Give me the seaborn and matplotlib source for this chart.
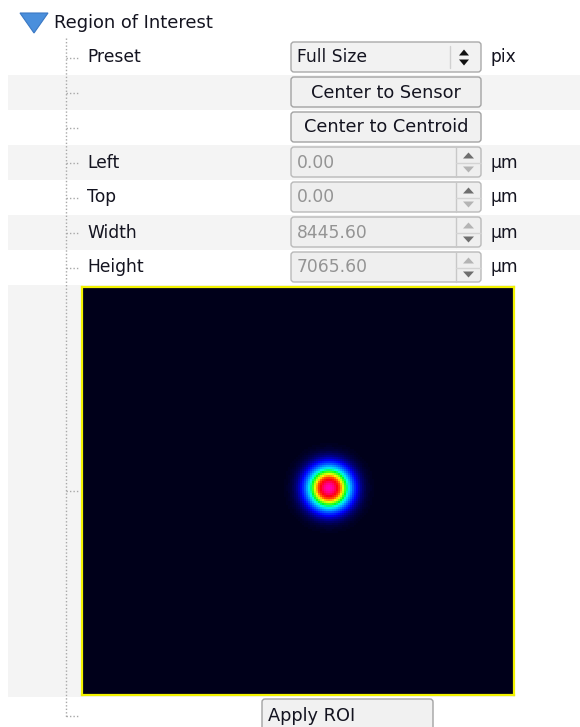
#   ROI panel with beam camera preview

import numpy as np
import seaborn as sns
import matplotlib.pyplot as plt
from matplotlib.patches import FancyBboxPatch, Rectangle, Polygon
from matplotlib.colors import LinearSegmentedColormap

sns.set_style("white")
plt.rcParams['font.family'] = ['DejaVu Sans']

# ---- panel content ----
title = "Region of Interest"
row_labels = ["Preset", "", "", "Left", "Top", "Width", "Height"]
row_widgets = ["combo", "button", "button", "spin", "spin", "spin", "spin"]
row_values = ["Full Size", "Center to Sensor", "Center to Centroid",
              "0.00", "0.00", "8445.60", "7065.60"]
row_units = ["pix", "", "", "µm", "µm", "µm", "µm"]
apply_label = "Apply ROI"

# ---- beam image (sensor cells) ----
sensor_cols = 216
sensor_rows = 204
beam_cx = 123.0
beam_cy = 100.0
beam_sigma = 6.75

# ---- layout (pixels, top-left origin) ----
W, H = 580, 727
ROW_TOP0, ROW_H = 40, 35
TREE_X = 66
LABEL_X = 87
WID_L, WID_R = 291, 481
UNIT_X = 490
IMG_L, IMG_R, IMG_T, IMG_B = 82, 514, 287, 695
TEXT = "#141420"
FS = 12.3

fig = plt.figure(figsize=(W / 100, H / 100), dpi=100)
bg = fig.add_axes([0, 0, 1, 1])
bg.set_xlim(0, W)
bg.set_ylim(H, 0)
bg.axis("off")

# header
bg.add_patch(Polygon([[20, 13], [48, 13], [34, 33]], closed=True,
                     facecolor="#4a8fdc", edgecolor="#3a78c4", lw=0.8))
bg.text(54, 23, title, fontsize=12.9, color=TEXT, va="center", ha="left")

# alternating row bands
for i in range(len(row_labels)):
    if i % 2 == 1:
        top = ROW_TOP0 + i * ROW_H
        bg.add_patch(Rectangle((8, top), W - 8, ROW_H, facecolor="#f4f4f4",
                               edgecolor="none", zorder=0))
img_row_top = ROW_TOP0 + len(row_labels) * ROW_H
bg.add_patch(Rectangle((8, img_row_top), IMG_R + 1 - 8, IMG_B + 2 - img_row_top,
                       facecolor="#f4f4f4", edgecolor="none", zorder=0))

# tree line
bg.plot([TREE_X, TREE_X], [38, 717], color="#a8a8a8", lw=1, ls=(0, (1, 1.5)))


def connector(y):
    bg.plot([TREE_X, TREE_X + 12], [y, y], color="#a8a8a8", lw=1, ls=(0, (1, 1.5)))


def box(x0, y0, x1, y1, face, edge):
    bg.add_patch(FancyBboxPatch((x0, y0), x1 - x0, y1 - y0,
                                boxstyle="round,pad=0,rounding_size=3",
                                facecolor=face, edgecolor=edge, lw=1, zorder=2))


for i, (lab, kind, val, unit) in enumerate(zip(row_labels, row_widgets, row_values, row_units)):
    top = ROW_TOP0 + i * ROW_H
    yc = top + ROW_H / 2
    y0, y1 = top + 2, top + 32
    connector(yc)
    if lab:
        bg.text(LABEL_X, yc, lab, fontsize=FS, color=TEXT, va="center", ha="left")
    if kind == "combo":
        box(WID_L, y0, WID_R, y1, "#f2f2f2", "#a9a9a9")
        bg.plot([450, 450], [y0 + 4, y1 - 4], color="#d0d0d0", lw=1, zorder=3)
        bg.add_patch(Polygon([[459, yc - 2], [469, yc - 2], [464, yc - 8]],
                             facecolor="#111", edgecolor="none", zorder=3))
        bg.add_patch(Polygon([[459, yc + 2], [469, yc + 2], [464, yc + 8]],
                             facecolor="#111", edgecolor="none", zorder=3))
        bg.text(WID_L + 6, yc, val, fontsize=FS, color=TEXT, va="center", ha="left", zorder=3)
    elif kind == "button":
        box(WID_L, y0, WID_R, y1, "#f1f1f1", "#a3a3a3")
        bg.text((WID_L + WID_R) / 2, yc, val, fontsize=12.8, color=TEXT,
                va="center", ha="center", zorder=3)
    else:
        box(WID_L, y0, WID_R, y1, "#efefef", "#b9b9b9")
        bg.plot([456, 456], [y0, y1], color="#c8c8c8", lw=1, zorder=3)
        bg.plot([456, WID_R], [yc, yc], color="#d4d4d4", lw=1, zorder=3)
        up_c, dn_c = ("#6e6e6e", "#b4b4b4") if i < 5 else ("#b4b4b4", "#6e6e6e")
        bg.add_patch(Polygon([[463, yc - 4], [474, yc - 4], [468.5, yc - 10]],
                             facecolor=up_c, edgecolor="none", zorder=3))
        bg.add_patch(Polygon([[463, yc + 4], [474, yc + 4], [468.5, yc + 10]],
                             facecolor=dn_c, edgecolor="none", zorder=3))
        bg.text(WID_L + 6, yc, val, fontsize=FS, color="#949494", va="center", ha="left", zorder=3)
    if unit:
        bg.text(UNIT_X, yc, unit, fontsize=FS, color=TEXT, va="center", ha="left")

connector((IMG_T + IMG_B) / 2)
connector(716)

# apply button (cut by the bottom edge)
box(262, 699, 433, 740, "#f1f1f1", "#a3a3a3")
bg.text(268, 716, apply_label, fontsize=12.8, color=TEXT, va="center", ha="left", zorder=3)

# beam intensity on the sensor grid
yy, xx = np.mgrid[0:sensor_rows, 0:sensor_cols]
intensity = np.exp(-((xx - beam_cx) ** 2 + (yy - beam_cy) ** 2) / (2 * beam_sigma ** 2))

beam_cmap = LinearSegmentedColormap.from_list("beam", [
    (0.0, "#00001a"), (0.04, "#00006a"), (0.12, "#0000ff"), (0.27, "#00a8ff"),
    (0.36, "#00ffe8"), (0.45, "#00ff20"), (0.6, "#ffff00"), (0.72, "#ff5000"),
    (0.83, "#ff0010"), (1.0, "#ff00b4")])

hm = fig.add_axes([IMG_L / W, 1 - IMG_B / H, (IMG_R - IMG_L) / W, (IMG_B - IMG_T) / H])
sns.heatmap(intensity, ax=hm, cmap=beam_cmap, vmin=0, vmax=1, cbar=False,
            xticklabels=False, yticklabels=False, rasterized=True)
for sp in hm.spines.values():
    sp.set_visible(True)
    sp.set_color("#f2f200")
    sp.set_linewidth(1.6)

fig.savefig("out.png", dpi=100)
